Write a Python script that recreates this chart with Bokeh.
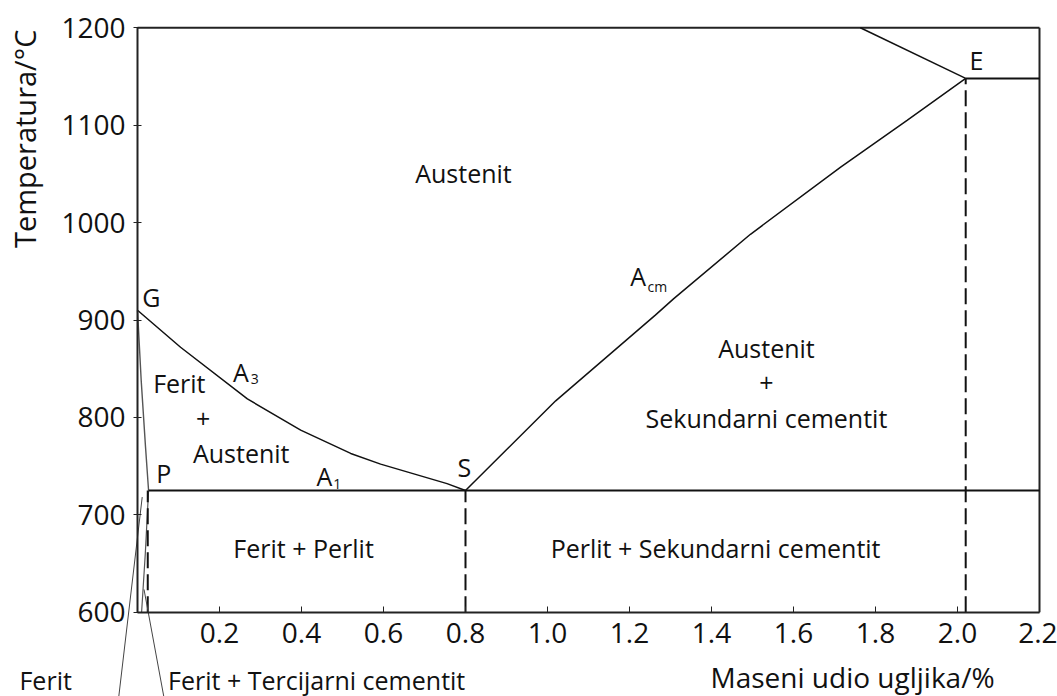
import math
from bokeh.plotting import figure
from bokeh.models import Range1d, FixedTicker
from bokeh.core.properties import value
from bokeh.embed import file_html
from bokeh.resources import INLINE

# ---------------- data ----------------
x_lo, x_hi = 0.0, 2.2
y_lo, y_hi = 600, 1200
x_ticks = [0.2, 0.4, 0.6, 0.8, 1.0, 1.2, 1.4, 1.6, 1.8, 2.0, 2.2]
y_ticks = [600, 700, 800, 900, 1000, 1100, 1200]

# A3 line G -> S
a3_x = [0.0, 0.105, 0.268, 0.398, 0.52, 0.593, 0.674, 0.755, 0.8]
a3_y = [910, 872, 819, 787, 763, 752, 742, 732, 725]

# Acm line S -> E
acm_x = [0.8, 0.898, 1.02, 1.263, 1.308, 1.495, 1.715, 1.877, 2.02]
acm_y = [725, 766, 817, 905, 922, 988, 1057, 1105, 1148]

# G -> P line
gp_x = [0.0, 0.009, 0.0195, 0.027]
gp_y = [910, 838, 770, 725]

# solvus P -> 600
solv_x = [0.027, 0.019, 0.010]
solv_y = [725, 660, 600]

# A1 isotherm
a1_x = [0.027, 2.2]
a1_y = [725, 725]

# liquidus piece to E and eutectic line
top_x = [1.763, 2.02]
top_y = [1200, 1148]
eut_x = [2.02, 2.2]
eut_y = [1148, 1148]

# dashed verticals
dash_x = [0.025, 0.8, 2.02]
dash_top = [725, 725, 1148]
dash_bottom = [600, 600, 600]

# pointer lines to the labels below the axis
ptr_x0 = [-0.0456, 0.0659]
ptr_y0 = [513.6, 509.4]
ptr_x1 = [0.0115, 0.0159]
ptr_y1 = [718.2, 623.4]

# labels inside the diagram
lab_text = ["Austenit", "G", "Ferit", "+", "Austenit", "P", "S", "E",
            "Austenit", "+", "Sekundarni cementit",
            "Ferit + Perlit", "Perlit + Sekundarni cementit"]
lab_x = [0.795, 0.034, 0.102, 0.16, 0.253, 0.064, 0.797, 2.046,
         1.534, 1.534, 1.534, 0.405, 1.41]
lab_y = [1051, 924, 835, 798, 763, 743, 749, 1167,
         871, 835, 799, 666, 666]

# A with subscripts
sub_main = ["A", "A", "A"]
sub_text = ["3", "1", "cm"]
sub_ax = [0.252, 0.456, 1.221]
sub_ay = [847, 740, 945]
sub_sx = [0.286, 0.487, 1.268]
sub_sy = [839, 732, 934]

# labels below the axis
out_text = ["Ferit", "Ferit + Tercijarni cementit"]
out_x = [-0.224, 0.437]
out_y = [530, 530]

xlab_text = ["Maseni udio ugljika/%"]
xlab_x = [1.744]
xlab_y = [533.5]

ylab_text = ["Temperatura/°C"]
ylab_x = [-0.2756]
ylab_y = [1086]

FONT = "Open Sans"
INK = "#111111"
FS = "25px"
AXFS = "28px"

# frame spans the whole canvas; axes sit at fixed data locations
W, H = 1057, 696
px_per_x = 410.0
px_per_y = 0.974
x0_px, y_top_px = 137.0, 27.3
x_start = x_lo - x0_px / px_per_x
x_end = x_start + W / px_per_x
y_end = y_hi + y_top_px / px_per_y
y_start = y_end - H / px_per_y

p = figure(width=W, height=H, output_backend="svg", toolbar_location=None,
           title=None, x_range=Range1d(x_start, x_end), y_range=Range1d(y_start, y_end),
           min_border=0, min_border_left=0, min_border_right=0,
           min_border_top=0, min_border_bottom=0)
p.xgrid.visible = False
p.ygrid.visible = False
p.outline_line_color = None
p.background_fill_color = "white"
p.border_fill_color = "white"

for ax in (p.xaxis[0], p.yaxis[0]):
    ax.axis_line_width = 2
    ax.axis_line_color = "#222222"
    ax.major_tick_line_color = "#222222"
    ax.major_tick_line_width = 1
    ax.minor_tick_line_color = None
    ax.major_label_text_font = FONT
    ax.major_label_text_font_size = AXFS
    ax.major_label_text_color = INK

p.xaxis.fixed_location = y_lo
p.xaxis.bounds = (x_lo, x_hi)
p.xaxis.ticker = FixedTicker(ticks=x_ticks)
p.xaxis.major_label_overrides = {t: f"{t:.1f}" for t in x_ticks}
p.xaxis.major_tick_in = 6
p.xaxis.major_tick_out = 0
p.xaxis.major_label_standoff = 11

p.yaxis.fixed_location = x_lo
p.yaxis.bounds = (y_lo, y_hi)
p.yaxis.ticker = FixedTicker(ticks=y_ticks)
p.yaxis.major_tick_in = 4
p.yaxis.major_tick_out = 4
p.yaxis.major_label_standoff = 8

# top and right border of the diagram
p.line([x_lo, x_hi], [y_hi, y_hi], line_color="#222222", line_width=2)
p.line([x_hi, x_hi], [y_lo, y_hi], line_color="#222222", line_width=2)

# phase lines
p.line(a3_x, a3_y, line_color=INK, line_width=1.5)
p.line(acm_x, acm_y, line_color=INK, line_width=1.5)
p.line(gp_x, gp_y, line_color="#555555", line_width=1.4)
p.line(solv_x, solv_y, line_color="#555555", line_width=1.2)
p.line(a1_x, a1_y, line_color=INK, line_width=2)
p.line(top_x, top_y, line_color=INK, line_width=1.5)
p.line(eut_x, eut_y, line_color=INK, line_width=2)
p.segment(x0=dash_x, y0=dash_bottom, x1=dash_x, y1=dash_top,
          line_color=INK, line_width=2, line_dash="16 6")
p.segment(x0=ptr_x0, y0=ptr_y0, x1=ptr_x1, y1=ptr_y1,
          line_color="#444444", line_width=1)

common = dict(text_align="center", text_baseline="middle",
              text_font=value(FONT), text_color=INK)
p.text(x=lab_x, y=lab_y, text=lab_text, text_font_size=FS, **common)
p.text(x=sub_ax, y=sub_ay, text=sub_main, text_font_size=FS, **common)
p.text(x=sub_sx, y=sub_sy, text=sub_text, text_font_size="14px", **common)
p.text(x=out_x, y=out_y, text=out_text, text_font_size=FS, **common)
p.text(x=xlab_x, y=xlab_y, text=xlab_text, text_font_size=AXFS, **common)
p.text(x=ylab_x, y=ylab_y, text=ylab_text, angle=math.pi / 2,
       text_font_size="29px", **common)

open("out.html", "w").write(file_html(p, INLINE))
